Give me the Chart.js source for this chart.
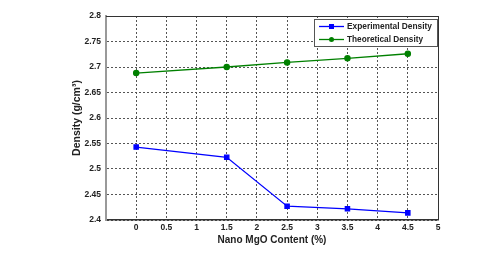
<!DOCTYPE html>
<html>
<head>
<meta charset="utf-8">
<script src="https://cdn.jsdelivr.net/npm/chart.js@4"></script>
<style>
  html, body { margin: 0; padding: 0; background: #fff; }
  #wrap { width: 486px; height: 263px; }
</style>
</head>
<body>
<div id="wrap"><canvas id="myChart" width="486" height="263"></canvas></div>
<script>
const contentPct = [0, 1.5, 2.5, 3.5, 4.5];
const experimentalDensity = [2.543, 2.523, 2.427, 2.422, 2.414];
const theoreticalDensity = [2.688, 2.700, 2.709, 2.717, 2.726];
const seriesNames = ['Experimental Density', 'Theoretical Density'];

const FONT = "'Liberation Sans', Arial, sans-serif";

// frame round the plot + legend box in the top right corner
const framePlugin = {
    id: 'frame',
    afterDraw(chart) {
        const a = chart.chartArea;
        const c = chart.ctx;
        c.save();
        c.strokeStyle = '#333';
        c.lineWidth = 1;
        c.beginPath();
        c.moveTo(a.left, a.top + 0.5);
        c.lineTo(a.right + 0.5, a.top + 0.5);
        c.lineTo(a.right + 0.5, a.bottom);
        c.stroke();

        // legend
        const bx = a.right - 124, by = a.top + 3, bw = 123, bh = 27;
        c.fillStyle = '#fff';
        c.fillRect(bx, by, bw, bh);
        c.strokeStyle = '#555';
        c.strokeRect(bx + 0.5, by + 0.5, bw, bh);
        c.textBaseline = 'middle';
        chart.data.datasets.forEach((ds, i) => {
            const y = by + 7.5 + i * 13;
            c.strokeStyle = ds.borderColor;
            c.lineWidth = 1.3;
            c.beginPath();
            c.moveTo(bx + 5, y);
            c.lineTo(bx + 30, y);
            c.stroke();
            c.fillStyle = ds.borderColor;
            if (ds.pointStyle === 'rect') {
                c.fillRect(bx + 17.5 - 2.5, y - 2.5, 5, 5);
            } else {
                c.beginPath();
                c.arc(bx + 17.5, y, 2.5, 0, Math.PI * 2);
                c.fill();
            }
            c.fillStyle = '#222';
            c.font = 'bold 8.5px ' + FONT;
            const maxW = i === 0 ? 85 : 76;
            const w = c.measureText(ds.label).width;
            c.fillText(ds.label, bx + 33, y + 0.5, Math.min(w, maxW));
        });
        c.restore();
    }
};

const tickFont = { family: FONT, size: 8.5, weight: 'bold' };
const titleFont = { family: FONT, size: 10, weight: 'bold' };

const ctx = document.getElementById('myChart').getContext('2d');
const myChart = new Chart(ctx, {
    type: 'line',
    data: {
        datasets: [
            {
                label: seriesNames[0],
                data: contentPct.map((x, i) => ({ x: x, y: experimentalDensity[i] })),
                borderColor: '#0000ff',
                backgroundColor: '#0000ff',
                borderWidth: 1.3,
                pointStyle: 'rect',
                pointRadius: 3,
                tension: 0
            },
            {
                label: seriesNames[1],
                data: contentPct.map((x, i) => ({ x: x, y: theoreticalDensity[i] })),
                borderColor: '#008000',
                backgroundColor: '#008000',
                borderWidth: 1.3,
                pointStyle: 'circle',
                pointRadius: 2.6,
                tension: 0
            }
        ]
    },
    options: {
        responsive: false,
        animation: false,
        layout: { padding: { left: 71, top: 16, right: 48, bottom: 17 } },
        plugins: {
            legend: { display: false },
            tooltip: { enabled: false }
        },
        scales: {
            x: {
                type: 'linear',
                min: -0.5,
                max: 5,
                afterFit: (scale) => { scale.height = 26; },
                ticks: {
                    stepSize: 0.5,
                    padding: 3,
                    color: '#222',
                    font: tickFont,
                    maxRotation: 0,
                    callback: (v) => v < 0 ? '' : String(v)
                },
                grid: {
                    color: (c) => c.tick && c.tick.value < 0 ? 'rgba(0,0,0,0)' : '#555',
                    lineWidth: 1,
                    drawTicks: false
                },
                border: { color: '#333', width: 1.5, dash: [2, 2] },
                title: {
                    display: true,
                    text: 'Nano MgO Content (%)',
                    color: '#222',
                    padding: 0,
                    font: titleFont
                }
            },
            y: {
                min: 2.4,
                max: 2.8,
                afterFit: (scale) => { scale.width = 35; },
                ticks: {
                    stepSize: 0.05,
                    padding: 5,
                    color: '#222',
                    font: tickFont,
                    callback: (v) => String(Math.round(v * 100) / 100)
                },
                grid: {
                    color: '#555',
                    lineWidth: 1,
                    drawTicks: false
                },
                border: { color: '#999', width: 2, dash: [2, 2] },
                title: {
                    display: true,
                    text: 'Density (g/cm³)',
                    color: '#222',
                    padding: 0,
                    font: { family: FONT, size: 10.5, weight: 'bold' }
                }
            }
        }
    },
    plugins: [framePlugin]
});
</script>
</body>
</html>
